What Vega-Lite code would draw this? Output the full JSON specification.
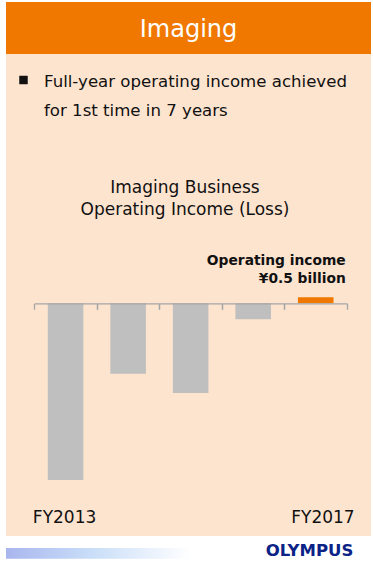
{
  "$schema": "https://vega.github.io/schema/vega-lite/v6.json",
  "padding": {"left": 5, "top": 2, "right": 3, "bottom": 0},
  "background": "#FFFFFF",
  "spacing": 0,
  "config": {"view": {"stroke": null}, "font": "DejaVu Sans"},
  "datasets": {
    "income": [
      {"year": "FY2013", "value": -14.3},
      {"year": "FY2014", "value": -5.7},
      {"year": "FY2015", "value": -7.26},
      {"year": "FY2016", "value": -1.3},
      {"year": "FY2017", "value": 0.5}
    ]
  },
  "vconcat": [
    {
      "width": 365,
      "height": 52,
      "view": {"fill": "#F07800", "stroke": null},
      "data": {"values": [{"label": "Imaging"}]},
      "mark": {"type": "text", "font": "DejaVu Sans", "fontSize": 24, "color": "#FFFFFF", "dy": 2},
      "encoding": {"text": {"field": "label"}}
    },
    {
      "width": 365,
      "height": 482,
      "view": {"fill": "#FDE4CF", "stroke": null},
      "resolve": {"axis": {"x": "independent"}},
      "layer": [
        {
          "data": {"name": "income"},
          "mark": {"type": "bar"},
          "encoding": {
            "x": {
              "field": "year", "type": "nominal", "sort": null,
              "scale": {"range": [28.3, 341], "paddingInner": 0.431, "paddingOuter": 0.2155},
              "axis": {
                "orient": "bottom", "offset": -232.7, "title": null, "zindex": 1,
                "domainColor": "#A6A6A6", "domainWidth": 1.3,
                "tickColor": "#A6A6A6", "tickWidth": 1.3, "tickSize": 6,
                "bandPosition": 0, "tickOffset": -13.48, "tickExtra": false,
                "labelExpr": "datum.label == 'FY2013' || datum.label == 'FY2017' ? datum.label : ''",
                "labelFont": "DejaVu Sans", "labelFontSize": 17, "labelColor": "#111111",
                "labelBaseline": "alphabetic", "labelPadding": 213, "labelAngle": 0,
                "labelOffset": {"condition": {"test": "datum.label == 'FY2017'", "value": 20.2}, "value": 12}
              }
            },
            "y": {
              "field": "value", "type": "quantitative",
              "scale": {"domain": [-18.83, 20.175], "nice": false, "zero": false},
              "axis": null
            },
            "color": {"condition": {"test": "datum.value > 0", "value": "#F07800"}, "value": "#BFBFBF"}
          }
        },
        {
          "data": {"values": [{"year": "FY2017", "value": 0.5, "note": ["Operating income", "¥0.5 billion"]}]},
          "mark": {"type": "text", "align": "right", "baseline": "alphabetic", "font": "DejaVu Sans", "fontWeight": "bold", "fontSize": 13.8, "lineHeight": 17.7, "color": "#111111", "dx": 30, "dy": -32},
          "encoding": {
            "x": {
              "field": "year", "type": "nominal",
              "axis": {
                "orient": "bottom", "offset": -232.7, "title": null, "zindex": 1,
                "domain": false, "labels": false,
                "tickColor": "#A6A6A6", "tickWidth": 1.3, "tickSize": 6,
                "bandPosition": 1, "tickOffset": 13.48, "tickExtra": false
              }
            },
            "y": {"field": "value", "type": "quantitative"},
            "text": {"field": "note"}
          }
        },
        {
          "data": {"values": [{"t": ["Full-year operating income achieved", "for 1st time in 7 years"]}]},
          "mark": {"type": "text", "align": "left", "baseline": "alphabetic", "font": "DejaVu Sans", "fontSize": 16.6, "lineHeight": 28.7, "color": "#111111", "x": 38, "y": 33.3},
          "encoding": {"text": {"field": "t"}}
        },
        {
          "data": {"values": [{"t": "bullet"}]},
          "mark": {"type": "point", "shape": "square", "filled": true, "size": 72, "color": "#111111", "opacity": 1, "x": 17.5, "y": 26},
          "encoding": {}
        },
        {
          "data": {"values": [{"t": ["Imaging Business", "Operating Income (Loss)"]}]},
          "mark": {"type": "text", "align": "center", "baseline": "alphabetic", "font": "DejaVu Sans", "fontSize": 17, "lineHeight": 22, "color": "#111111", "x": 179, "y": 139.3},
          "encoding": {"text": {"field": "t"}}
        }
      ]
    },
    {
      "width": 365,
      "height": 28,
      "layer": [
        {
          "data": {"values": [{"t": "band"}]},
          "mark": {
            "type": "rect", "x": 0, "x2": 185, "y": 11, "y2": 21.7,
            "fill": {"gradient": "linear", "x1": 0, "x2": 1, "y1": 0, "y2": 0,
              "stops": [{"offset": 0, "color": "#A9B6EE"}, {"offset": 0.45, "color": "#C8DDF8"}, {"offset": 1, "color": "#FFFFFF"}]}
          },
          "encoding": {}
        },
        {
          "data": {"values": [{"t": "logo"}]},
          "mark": {"type": "rule", "x": 257, "x2": 350, "y": 22.8, "y2": 22.8, "strokeWidth": 1.5, "color": "#F2B200"},
          "encoding": {}
        },
        {
          "data": {"values": [{"t": "OLYMPUS"}]},
          "mark": {"type": "text", "align": "center", "baseline": "alphabetic", "font": "DejaVu Sans", "fontWeight": "bold", "fontSize": 16.5, "color": "#0B2286", "x": 303.5, "y": 19.3},
          "encoding": {"text": {"field": "t"}}
        }
      ]
    }
  ]
}
